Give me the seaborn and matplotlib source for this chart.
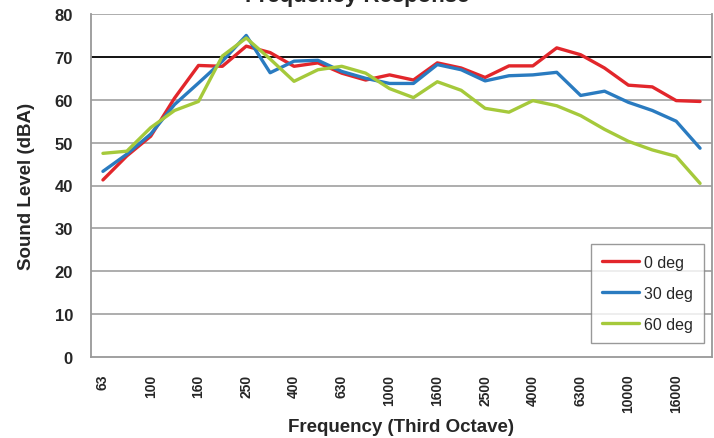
import pandas as pd
import matplotlib.pyplot as plt
import seaborn as sns
from matplotlib.ticker import FixedLocator

# third octave bands
bands = ["63", "80", "100", "125", "160", "200", "250", "315", "400", "500",
         "630", "800", "1000", "1250", "1600", "2000", "2500", "3150", "4000",
         "5000", "6300", "8000", "10000", "12500", "16000", "20000"]

deg0 = [41.3, 46.9, 51.5, 60.4, 68.0, 67.8, 72.5, 71.0, 67.8, 68.6,
        66.2, 64.6, 65.8, 64.6, 68.6, 67.4, 65.2, 67.9, 67.9, 72.1,
        70.5, 67.4, 63.4, 63.0, 59.8, 59.6]
deg30 = [43.3, 47.3, 52.0, 58.9, 63.9, 69.0, 75.0, 66.3, 69.0, 69.2,
         66.6, 65.0, 63.8, 63.8, 68.2, 67.0, 64.4, 65.6, 65.8, 66.4,
         61.0, 62.0, 59.4, 57.5, 55.0, 48.7]
deg60 = [47.5, 48.0, 53.5, 57.5, 59.6, 70.2, 74.4, 69.5, 64.3, 67.0,
         67.8, 66.2, 62.6, 60.5, 64.2, 62.2, 58.0, 57.1, 59.8, 58.6,
         56.3, 53.1, 50.3, 48.3, 46.8, 40.5]

series_names = ["0 deg", "30 deg", "60 deg"]
colors = ["#e2262b", "#2a7bc0", "#a5c93b"]

rows = []
for name, vals in zip(series_names, [deg0, deg30, deg60]):
    for i, v in enumerate(vals):
        rows.append({"Band": i, "Level": v, "Series": name})
df = pd.DataFrame(rows)

sns.set_style("white")
plt.rcParams["font.family"] = ["Liberation Sans", "DejaVu Sans"]

fig = plt.figure(figsize=(7.14, 4.39), dpi=100)
ax = fig.add_axes([91 / 714, 1 - 358 / 439, 621 / 714, 343 / 439])

# gridlines
for yv in range(10, 81, 10):
    ax.axhline(yv, color="#000000" if yv == 70 else "#a0a0a0",
               linewidth=1.3 if yv == 70 else 1.2, zorder=0)

sns.lineplot(data=df, x="Band", y="Level", hue="Series", palette=colors,
             linewidth=2.4, ax=ax, legend=True)

ax.set_xlim(-0.5, len(bands) - 0.5)
ax.set_ylim(0, 80)
ax.set_yticks(range(0, 81, 10))
ax.set_yticklabels([str(v) for v in range(0, 81, 10)], fontsize=12, fontweight="bold")

major = list(range(0, len(bands), 2))
ax.set_xticks(major)
ax.set_xticklabels([bands[i] for i in major], rotation=90, fontsize=10, fontweight="bold")
ax.tick_params(axis="x", which="major", length=0, pad=12)
ax.xaxis.set_minor_locator(FixedLocator([i - 0.5 for i in range(len(bands) + 1)]))
ax.tick_params(axis="x", which="minor", length=5, width=1.2, color="#808080", direction="out")
ax.tick_params(axis="y", length=5, width=1.2, color="#808080", direction="out", pad=8)

for side in ["left", "bottom", "right"]:
    ax.spines[side].set_color("#999999")
    ax.spines[side].set_linewidth(1.3)
ax.spines["top"].set_visible(False)

ax.set_xlabel("Frequency (Third Octave)", fontsize=13.5, fontweight="bold", labelpad=4)
ax.set_ylabel("Sound Level (dBA)", fontsize=13.5, fontweight="bold", labelpad=14)
fig.text(0.5, 1.0 + 3 / 439, "Frequency Response", ha="center", va="center",
         fontsize=16, fontweight="bold")

leg = ax.legend(loc="lower right", bbox_to_anchor=(0.987, 0.041), borderaxespad=0,
                fontsize=11.5, frameon=True, fancybox=False, edgecolor="#808080",
                handlelength=2.3, labelspacing=1.0, borderpad=0.7, handletextpad=0.3)
leg.get_frame().set_linewidth(1.0)
for line in leg.get_lines():
    line.set_linewidth(2.4)

plt.savefig("out.png", dpi=100)
